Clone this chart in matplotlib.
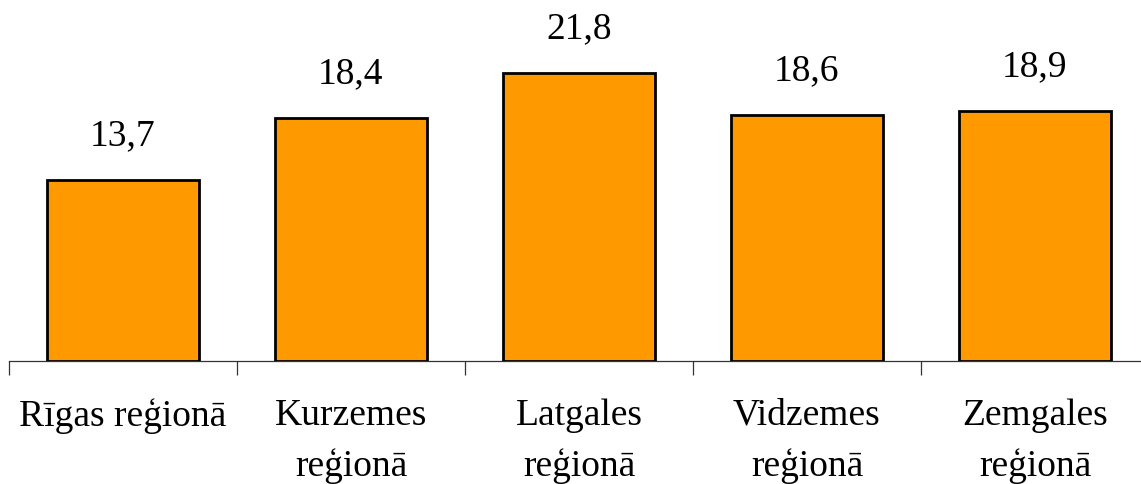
import matplotlib
matplotlib.use('Agg')
from matplotlib import pyplot as plt
import numpy as np

categories = ['Rīgas reģionā', 'Kurzemes\nreģionā', 'Latgales\nreģionā', 'Vidzemes\nreģionā', 'Zemgales\nreģionā']
values = [13.7, 18.4, 21.8, 18.6, 18.9]
value_labels = ['13,7', '18,4', '21,8', '18,6', '18,9']

plt.rcParams['font.family'] = ['Liberation Serif', 'DejaVu Serif']

W, H = 1141, 485
fig = plt.figure(figsize=(W / 100, H / 100), dpi=100)
# axes runs from x=9px to x=1149px (right end cut off like the original)
ax = fig.add_axes([9 / W, 1 - 362 / H, 1140 / W, 362 / H])

x = np.arange(len(categories))
ax.bar(x, values, width=0.67, color='#FF9900', edgecolor='black', linewidth=2.0, zorder=3)

for xi, v, lab in zip(x, values, value_labels):
    ax.annotate(lab, (xi, v), xytext=(0, 20), textcoords='offset points',
                ha='center', va='bottom', fontsize=27)

ax.set_xlim(-0.5, 4.5)
ax.set_ylim(0, 27.4)

for s in ['top', 'right', 'left']:
    ax.spines[s].set_visible(False)
ax.spines['bottom'].set_color('#333333')
ax.spines['bottom'].set_linewidth(0.9)
ax.set_yticks([])

ax.set_xticks(x)
ax.set_xticklabels(categories, fontsize=27, linespacing=1.55)
ax.tick_params(axis='x', length=0, pad=26)
ax.set_xticks(np.arange(-0.5, 5.0, 1.0), minor=True)
ax.tick_params(axis='x', which='minor', length=10, width=0.9, color='#333333', direction='out')

fig.savefig('out.png', dpi=100)
